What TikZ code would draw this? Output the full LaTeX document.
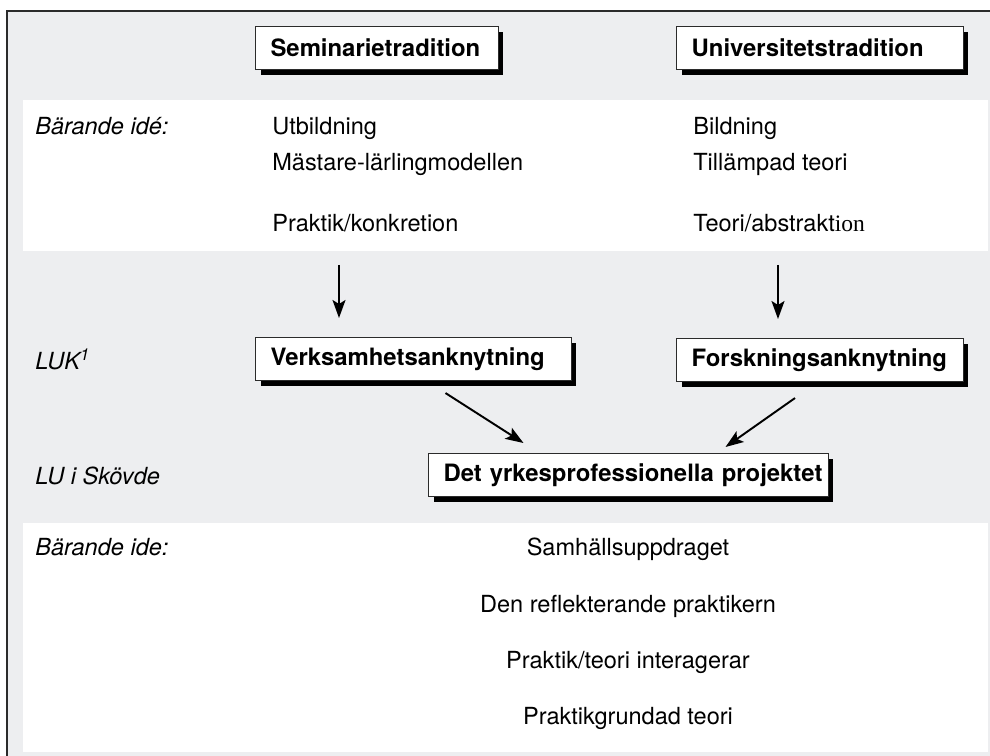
\documentclass[tikz,border=0pt]{standalone}
\usepackage{fontspec}
\setmainfont{TeX Gyre Heros}
\newfontfamily\serifpart{Liberation Serif}
\usetikzlibrary{arrows.meta,calc,positioning,shadows}
\definecolor{FigGray}{HTML}{EDEEF0}
\definecolor{FigLine}{HTML}{2B2B2B}

\begin{document}
\begin{tikzpicture}[
    x=0.02cm,y=-0.02cm,
    tradbox/.style={draw=FigLine,fill=white,line width=0.6pt,anchor=north west,
      inner xsep=0.3cm,minimum height=0.86cm,align=left,
      font=\fontsize{13.6}{16}\selectfont\bfseries,
      drop shadow={shadow xshift=0.1cm,shadow yshift=-0.1cm,fill=black,opacity=1}},
    entry/.style={anchor=base west,inner sep=0pt,font=\fontsize{13.4}{16}\selectfont},
    rowlabel/.style={entry,font=\fontsize{13.4}{16}\selectfont\itshape},
    centred/.style={entry,anchor=base},
    flow/.style={-{Stealth[length=3.6mm,width=2.6mm,inset=0.8mm]},line width=1.1pt,color=black}
  ]
    \useasboundingbox (0,0) rectangle (990,756);

    % background and white bands
    \fill[FigGray] (7,11) rectangle (990,756);
    \fill[white] (23,100) rectangle (988,251);
    \fill[white] (23,523) rectangle (988,752);
    \draw[FigLine,line width=1pt] (7,756) -- (7,11) -- (990,11);

    % the two traditions
    \node[tradbox,text width=4.26cm] (sem) at (255,26) {\mbox{Seminarietradition}};
    \node[tradbox,text width=5.14cm] (uni) at (676,26) {\mbox{Universitetstradition}};

    \node[rowlabel] (bar1) at (35,135) {Bärande idé:};
    \node[entry] (utb) at (272,135) {Utbildning};
    \node[entry] (mast) at (272,171) {Mästare-lärlingmodellen};
    \node[entry] (prak) at (272,232) {Praktik/konkretion};
    \node[entry] (bild) at (693,135) {Bildning};
    \node[entry] (till) at (693,171) {Tillämpad teori};
    \node[entry] (teori) at (693,232) {Teori/abstrakt{\serifpart ion}};

    % LUK level
    \node[rowlabel] (luk) at (35,370) {LUK\textsuperscript{1}};
    \node[tradbox,text width=5.72cm] (verk) at (255,337) {\mbox{Verksamhetsanknytning}};
    \node[tradbox,text width=5.14cm] (forsk) at (676,338) {\mbox{Forskningsanknytning}};

    \coordinate (semarr) at (339,265);
    \coordinate (uniarr) at (778,265);
    \draw[flow] (semarr) -- ($(semarr |- verk.north)+(0,-19)$);
    \draw[flow] (uniarr) -- ($(uniarr |- forsk.north)+(0,-19)$);

    % Skövde level
    \node[rowlabel] (lus) at (35,484) {LU i Skövde};
    \node[tradbox,text width=7.4cm] (proj) at (428,453) {\mbox{Det yrkesprofessionella projektet}};

    \draw[flow] ($(verk.south)+(32,12)$) -- ($(proj.north)+(-105,-10)$);
    \draw[flow] ($(forsk.south)+(-25,16)$) -- ($(proj.north)+(97,-6)$);

    \node[rowlabel] (bar2) at (35,555) {Bärande ide:};
    \node[centred] (samh) at (628,555) {Samhällsuppdraget};
    \node[centred] (refl) at (628,612) {Den reflekterande praktikern};
    \node[centred] (inter) at (628,668) {Praktik/teori interagerar};
    \node[centred] (grund) at (628,724) {Praktikgrundad teori};
  \end{tikzpicture}
\end{document}
